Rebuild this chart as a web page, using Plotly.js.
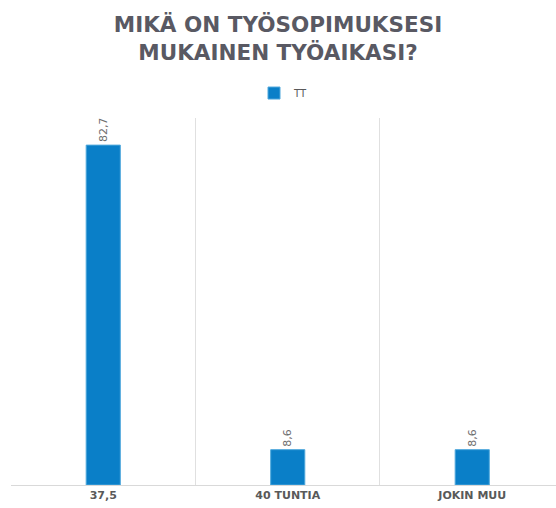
<!DOCTYPE html>
<html>
<head>
<meta charset="utf-8">
<script src="https://cdn.plot.ly/plotly-3.0.1.min.js"></script>
<style>html,body{margin:0;padding:0;background:#fff;}#chart{width:556px;height:508px;}</style>
</head>
<body>
<div id="chart"></div>
<script>
const categories = ['37,5', '40 TUNTIA', 'JOKIN MUU'];
const seriesName = 'TT';
const values = [82.7, 8.6, 8.6];

const trace = {
  type: 'bar',
  name: seriesName,
  x: categories,
  y: values,
  width: 0.185,
  marker: {color: '#0a7fc8', line: {color: '#4fa8dc', width: 1}},
  texttemplate: '%{y:.1f}',
  textposition: 'outside',
  textangle: -90,
  cliponaxis: false,
  textfont: {family: 'DejaVu Sans', size: 11, color: '#6e6e6e'},
  showlegend: true
};

const layout = {
  width: 556, height: 508,
  separators: ', ',
  margin: {l: 11, r: 0, t: 118, b: 23},
  paper_bgcolor: '#fff', plot_bgcolor: '#fff',
  font: {family: 'DejaVu Sans', color: '#595959'},
  title: {
    text: '<b>MIKÄ ON TYÖSOPIMUKSESI<br>MUKAINEN TYÖAIKASI?</b>',
    font: {family: 'DejaVu Sans', size: 21.5, color: '#595963'},
    x: 0.5, xanchor: 'center', yref: 'container', y: 0.937, yanchor: 'middle'
  },
  showlegend: true,
  legend: {
    orientation: 'h', x: 0.5, xanchor: 'center', y: 1.068, yanchor: 'middle',
    font: {size: 10, color: '#595959'},
    itemwidth: 30
  },
  xaxis: {
    type: 'category',
    range: [-0.5, 2.454],
    tickson: 'boundaries',
    ticks: '',
    showgrid: true, gridcolor: '#e0e0e0', gridwidth: 1,
    showline: true, linecolor: '#d9d9d9', linewidth: 1,
    tickfont: {family: 'DejaVu Sans', size: 11, color: '#595959', weight: 'bold'},
    fixedrange: true
  },
  yaxis: {
    range: [0, 89.3],
    showgrid: false, zeroline: false, showticklabels: false, showline: false,
    fixedrange: true
  },
  bargap: 0.8
};

Plotly.newPlot('chart', [trace], layout, {displayModeBar: false, staticPlot: true});
</script>
</body>
</html>
